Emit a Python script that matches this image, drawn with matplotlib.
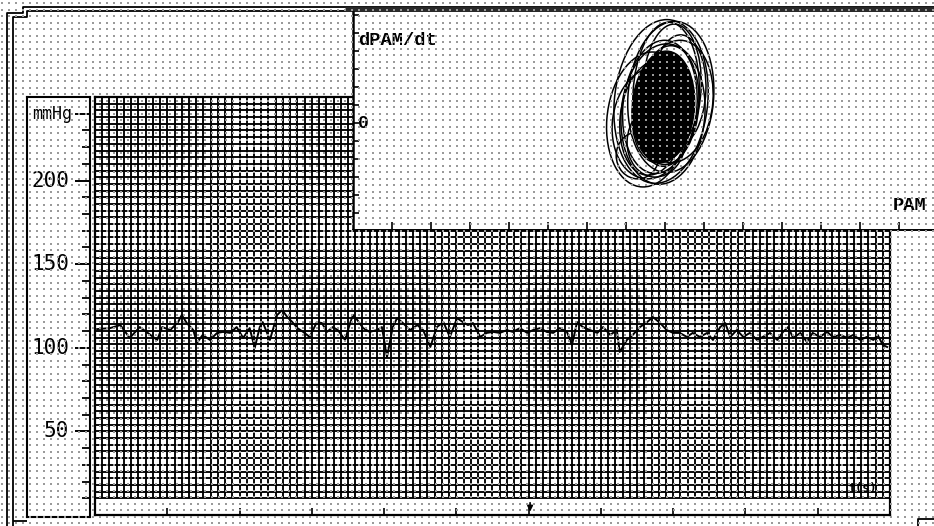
import matplotlib
matplotlib.use('Agg')
import matplotlib.pyplot as plt
from matplotlib.patches import Ellipse
import numpy as np

# mean arterial pressure trace: time (grid units) and mmHg
t_trace = [0.3, 2.1, 3.5, 4.8, 6.2, 7.3, 8.6, 9.3, 10.4, 11.5,
           12.0, 12.7, 13.6, 14.1, 14.9, 15.9, 16.9, 17.7, 18.7, 19.6,
           20.5, 21.4, 22.1, 22.8, 23.2, 24.2, 25.2, 25.9, 26.6, 27.3,
           28.0, 28.8, 29.7, 30.7, 31.4, 32.1, 32.9, 33.6, 34.6, 35.3,
           35.7, 36.3, 37.1, 38.0, 39.0, 39.7, 40.4, 41.2, 41.8, 42.6,
           43.6, 44.6, 45.4, 46.4, 47.3, 48.2, 49.1, 50.1, 50.9, 51.6,
           52.3, 53.3, 54.2, 55.1, 56.0, 57.0, 57.8, 58.8, 59.8, 60.6,
           61.6, 62.5, 63.4, 64.3, 65.3, 66.0, 66.7, 67.5, 68.5, 69.5,
           70.3, 71.3, 72.2, 72.6, 73.6, 74.4, 75.4, 76.4, 77.2, 78.2,
           79.1, 80.0, 80.9, 81.9, 82.7, 83.7, 84.7, 85.5, 86.5, 87.2,
           87.9, 88.8, 89.7, 90.6, 91.6, 92.4, 93.4, 94.4, 95.2, 95.9,
           96.6, 97.6, 98.5, 99.3, 100.3, 101.3, 102.1, 103.1, 104.1, 104.9,
           105.9, 106.8, 107.7, 108.3, 109.0, 109.6]
p_trace = [111.2, 111.8, 113.6, 105.9, 112.4, 108.9, 104.7, 112.4, 110.6, 115.4,
           119.6, 114.8, 110.6, 102.9, 107.7, 104.7, 108.9, 109.5, 108.9, 112.4,
           105.9, 111.8, 99.9, 112.4, 115.4, 104.7, 119.6, 122.6, 118.4, 115.4,
           111.8, 109.5, 106.5, 115.4, 114.8, 109.5, 112.4, 110.6, 104.7, 114.8,
           119.6, 116.6, 111.8, 109.5, 110.6, 112.4, 94.5, 112.4, 117.8, 114.8,
           110.6, 113.6, 110.6, 100.5, 112.4, 115.4, 106.5, 117.8, 115.4, 113.6,
           114.8, 106.5, 108.9, 109.5, 108.9, 110.6, 109.5, 111.8, 108.9, 110.6,
           111.8, 109.5, 108.9, 111.8, 109.5, 101.7, 115.4, 112.4, 110.6, 108.9,
           112.4, 107.7, 110.6, 97.5, 104.7, 107.7, 112.4, 115.4, 118.4, 114.8,
           110.6, 108.9, 108.9, 106.5, 108.9, 106.5, 108.9, 104.7, 112.4, 114.8,
           106.5, 110.6, 106.5, 108.9, 104.7, 106.5, 108.9, 104.7, 109.5, 112.4,
           105.9, 108.9, 103.5, 108.9, 106.5, 109.5, 106.5, 107.7, 105.9, 107.7,
           104.7, 106.5, 104.7, 107.7, 101.7, 100.5]

# pressure scale
p_labels = [50, 100, 150, 200]
unit_label = 'mmHg'
unit_level = 240
marker_time = 60.2

# phase loops: centre PAM, centre dPAM/dt, width, height, tilt
loop_pam = [115.6, 119.0, 121.5, 118.7, 120.3, 122.8, 117.0, 120.7, 118.9,
            113.0, 121.8, 116.5, 119.5, 123.5, 117.8]
loop_dpdt = [2.0, 12.0, 14.5, 9.0, 16.0, 12.0, 3.0, 10.0, 7.0,
             -18.0, 20.0, 0.0, 5.0, 18.0, -10.0]
loop_w = [21.0, 24.0, 22.0, 19.0, 17.0, 19.0, 17.0, 16.0, 14.5,
          11.0, 15.0, 20.0, 21.5, 14.0, 15.0]
loop_h = [75.0, 91.0, 84.0, 74.0, 80.0, 68.0, 64.0, 66.0, 58.0,
          26.0, 70.0, 62.0, 78.0, 62.0, 40.0]
loop_tilt = [-2, -2, -1.5, -2, -1, -2, -2.5, -1.5, -2,
             0, -1, -2, -1.5, -1, -1]
core_pam, core_dpdt, core_w, core_h = 119.6, 9.0, 16.0, 62.0

W, H = 934, 526
fig = plt.figure(figsize=(W / 100, H / 100), dpi=100)
fig.patch.set_facecolor('white')


def box(x0, y0, x1, y1):
    # pixel box -> figure fraction rect
    return [x0 / W, (H - y1) / H, (x1 - x0) / W, (y1 - y0) / H]


# screen frame
frame = fig.add_axes([0, 0, 1, 1], zorder=0)
frame.set_xlim(0, W)
frame.set_ylim(H, 0)
frame.axis('off')
k = dict(color='black', lw=1.3, solid_capstyle='butt')
frame.plot([7, 7, 23, 23, W], [H, 13, 13, 7, 7], **k)
frame.plot([13, 13, 27, 27, W], [H, 17, 17, 11, 11], **k)
frame.plot([345, W], [9, 9], color='#2a2a2a', lw=3.5, solid_capstyle='butt')
frame.plot([13, 27], [521, 521], **k)
frame.plot([918, 918, W], [H, 519, 519], **k)

# scale box on the left
lab = fig.add_axes(box(27, 97, 90, 517), zorder=1)
lab.set_ylim(-1.2, 250)
lab.set_xlim(0, 1)
for s in lab.spines.values():
    s.set_linewidth(1.5)
lab.set_xticks([])
lab.yaxis.tick_right()
lab.set_yticks(p_labels + [unit_level])
lab.set_yticks(np.arange(10, 241, 10), minor=True)
lab.tick_params(axis='y', which='major', direction='in', length=11, width=1.4,
                labelright=False)
lab.tick_params(axis='y', which='minor', direction='in', length=6, width=1.3)
for v in p_labels:
    lab.text(0.67, v, str(v), ha='right', va='center', fontsize=15,
             family='DejaVu Sans Mono', transform=lab.get_yaxis_transform())
lab.text(0.71, unit_level, unit_label, ha='right', va='center', fontsize=12,
         family='DejaVu Sans Mono', transform=lab.get_yaxis_transform())

# chart paper with the pressure trace
ax = fig.add_axes(box(95, 97, 890, 515), zorder=1)
ax.set_xlim(0, 110)
ax.set_ylim(0, 250)
for s in ax.spines.values():
    s.set_linewidth(1.6)
ax.vlines(np.arange(0, 111, 1), 10, 250, color='black', lw=1.35)
ax.hlines(np.arange(10, 251, 4), 0, 110, color='black', lw=1.35)
ax.plot(t_trace, p_trace, color='black', lw=1.4)
ax.set_yticks([])
ax.set_xticks(np.arange(0, 111, 10))
ax.tick_params(axis='x', direction='in', length=5, width=1.2, labelbottom=False)
ax.annotate('', xy=(marker_time, 0.3), xytext=(marker_time, 9),
            arrowprops=dict(arrowstyle='-|>', color='black', lw=1.2,
                            mutation_scale=8))
ax.text(104.3, 16, 't(s)', fontsize=8.5, family='DejaVu Sans Mono',
        va='center', ha='left', fontweight='bold')

# phase plane inset
ins = fig.add_axes(box(353, 12, W, 230), zorder=3)
ins.set_facecolor('white')
ins.set_xlim(40, 189)
ins.set_ylim(-59.4, 61.7)
ins.spines['top'].set_visible(False)
ins.spines['right'].set_visible(False)
ins.spines['left'].set_linewidth(1.8)
ins.spines['bottom'].set_linewidth(1.4)
ins.set_xticks(np.arange(50, 190, 10))
ins.set_yticks(np.arange(-50, 61, 10))
ins.tick_params(axis='x', direction='in', length=6, width=1.2, labelbottom=False)
ins.tick_params(axis='y', direction='in', length=4, width=1.2, labelleft=False)
for cx, cy, w, h, a in zip(loop_pam, loop_dpdt, loop_w, loop_h, loop_tilt):
    ins.add_patch(Ellipse((cx, cy), w, h, angle=a, fill=False,
                          ec='black', lw=1.1))
ins.add_patch(Ellipse((core_pam, core_dpdt), core_w, core_h, angle=-1.5,
                      fc='black', ec='black', lw=1.0))
ins.text(41.2, 0, '0', ha='left', va='center', fontsize=13,
         family='Liberation Mono', fontweight='bold')
ins.text(41.2, 46, 'dPAM/dt', ha='left', va='center', fontsize=13.5,
         family='Liberation Mono', fontweight='bold')
ins.text(178.5, -46, 'PAM', ha='left', va='center', fontsize=13.5,
         family='Liberation Mono', fontweight='bold')

# dotted screen raster over everything
dots = fig.add_axes([0, 0, 1, 1], zorder=10)
dots.set_facecolor('none')
dots.set_xlim(0, W)
dots.set_ylim(H, 0)
dots.axis('off')
gx, gy = np.meshgrid(np.arange(2, W, 7), np.arange(3, H, 6.5))
dots.scatter(gx.ravel(), gy.ravel(), s=1.0, marker='s', c='#9a9a9a',
             linewidths=0)

fig.savefig('out.png', dpi=100)
